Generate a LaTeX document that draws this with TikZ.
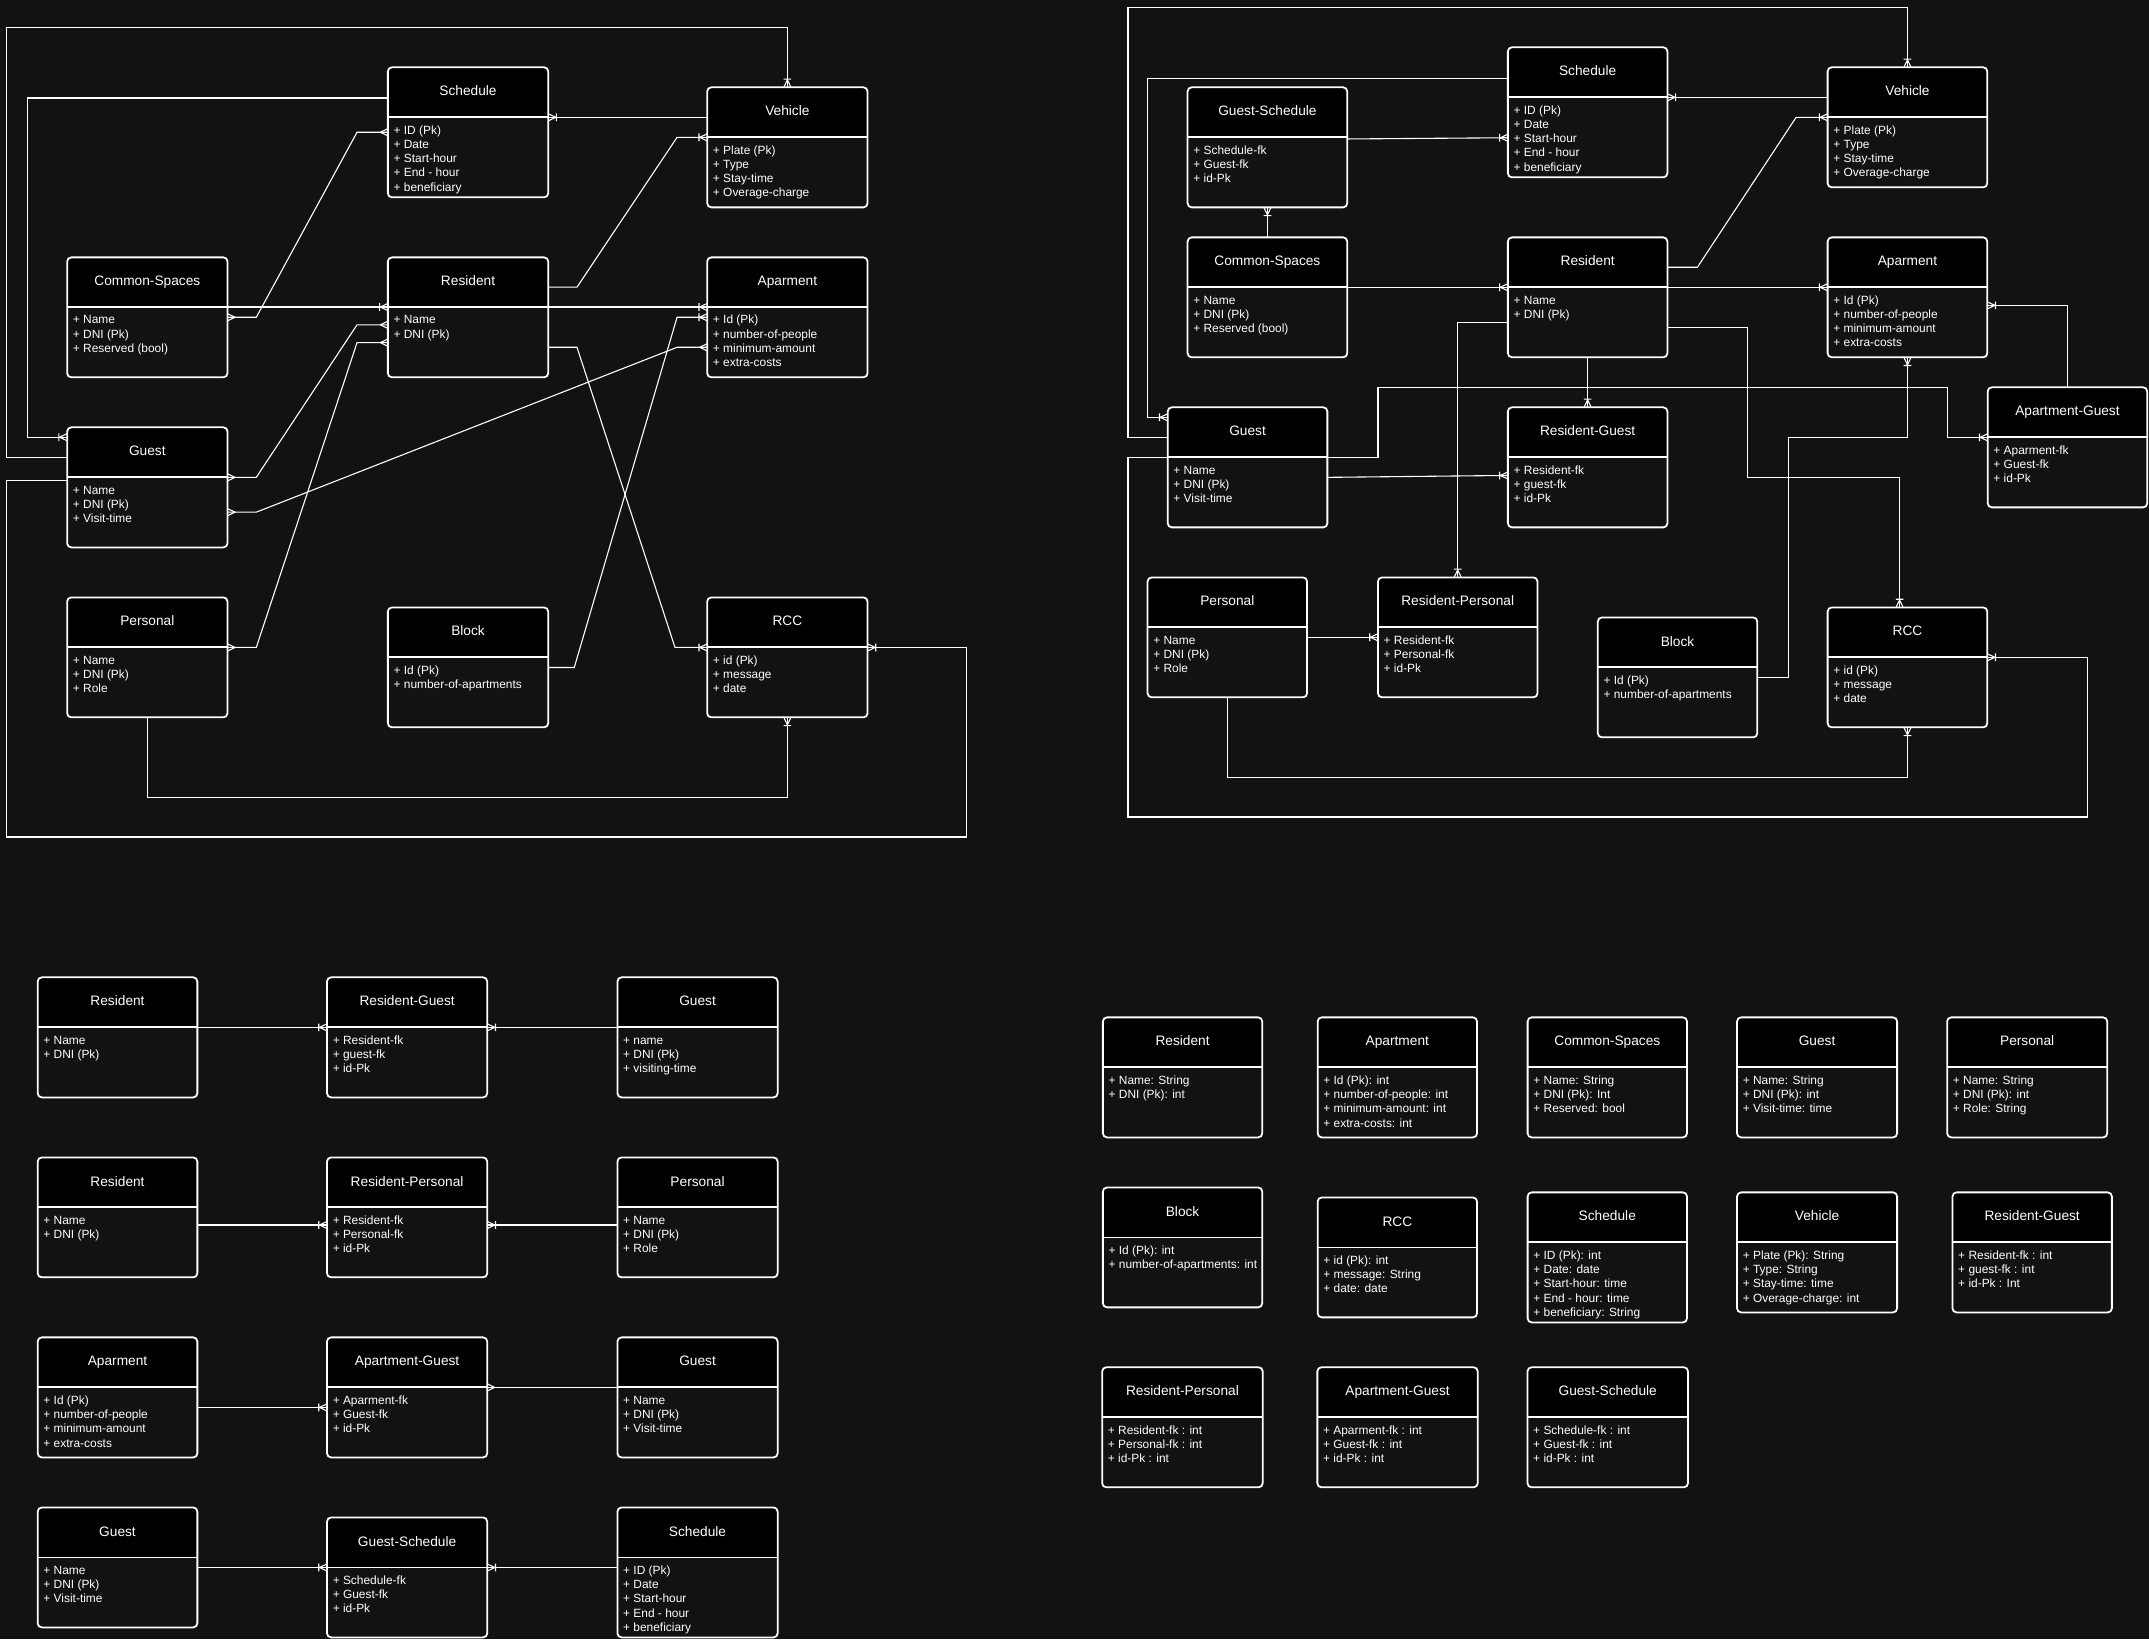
\documentclass[tikz,border=0pt]{standalone}
\usepackage{fontspec}
\setmainfont{Liberation Sans}
\usetikzlibrary{fit,arrows.meta}
\definecolor{bgc}{RGB}{18,18,18}

\pgfdeclarearrow{
  name = crowmany,
  setup code = {
    \pgfarrowssettipend{0pt}
    \pgfarrowssetlineend{0pt}
    \pgfarrowssetbackend{-6pt}
    \pgfarrowshullpoint{0pt}{2.8pt}
    \pgfarrowshullpoint{0pt}{-2.8pt}
    \pgfarrowshullpoint{-6pt}{0pt}
  },
  drawing code = {
    \pgfsetroundjoin
    \pgfpathmoveto{\pgfqpoint{0pt}{2.6pt}}
    \pgfpathlineto{\pgfqpoint{-5.5pt}{0pt}}
    \pgfpathlineto{\pgfqpoint{0pt}{-2.6pt}}
    \pgfusepathqstroke
  }
}
\pgfdeclarearrow{
  name = crowone,
  setup code = {
    \pgfarrowssettipend{0pt}
    \pgfarrowssetlineend{0pt}
    \pgfarrowssetbackend{-7pt}
    \pgfarrowshullpoint{0pt}{2.8pt}
    \pgfarrowshullpoint{0pt}{-2.8pt}
    \pgfarrowshullpoint{-7pt}{2.8pt}
    \pgfarrowshullpoint{-7pt}{-2.8pt}
  },
  drawing code = {
    \pgfsetroundjoin
    \pgfpathmoveto{\pgfqpoint{0pt}{2.6pt}}
    \pgfpathlineto{\pgfqpoint{-5.5pt}{0pt}}
    \pgfpathlineto{\pgfqpoint{0pt}{-2.6pt}}
    \pgfpathmoveto{\pgfqpoint{-6pt}{2.8pt}}
    \pgfpathlineto{\pgfqpoint{-6pt}{-2.8pt}}
    \pgfusepathqstroke
  }
}

\tikzset{
  ebox/.style={draw=white, line width=1.3pt, rounded corners=3pt, inner sep=0pt, outer sep=0pt},
  hdiv/.style={draw=white, line width=1.4pt},
  etitle/.style={text=white, font=\fontsize{10}{12}\selectfont, anchor=base, inner sep=0pt},
  eattr/.style={text=white, font=\fontsize{8.7}{10.4}\selectfont, anchor=base west, inner sep=0pt},
  conn/.style={draw=white, line width=0.8pt},
}

% #1 name, #2 x1, #3 y1, #4 x2, #5 y2, #6 header bottom, #7 title, #8 attributes
\newcommand{\erbox}[8]{%
  \begin{scope}
    \clip[rounded corners=3pt] (#2,#3) rectangle (#4,#5);
    \fill[bgc] (#2,#3) rectangle (#4,#5);
    \fill[black] (#2,#3) rectangle (#4,#6);
  \end{scope}
  \node[ebox, fit={(#2,#3) (#4,#5)}] (#1) {};
  \draw[hdiv] (#2,#6) -- (#4,#6);
  \node[etitle] (#1-t) at ({(#2+#4)/2},{(#3+#6)/2+2.6}) {#7};
  \foreach \atx [count=\nn] in {#8} {
    \node[eattr] (#1-a\nn) at ({#2+4},{#6+12.3+(\nn-1)*10.4}) {\atx};
  }
}

\begin{document}
\begin{tikzpicture}[x=1pt,y=-1pt]
\useasboundingbox (0,0) rectangle (1568,1196);
\fill[bgc] (0,0) rectangle (1568,1196);

% ---------------- top-left diagram ----------------
\erbox{tlSched}{283}{49.1}{400}{144}{85.6}{Schedule}{+ ID (Pk),+ Date,+ Start-hour,+ End - hour,+ beneficiary}
\erbox{tlVeh}{516}{63.7}{633}{151.3}{100.2}{Vehicle}{+ Plate (Pk),+ Type,+ Stay-time,+ Overage-charge}
\erbox{tlCS}{49}{187.8}{166}{275.3}{224}{Common-Spaces}{+ Name,+ DNI (Pk),+ Reserved (bool)}
\erbox{tlRes}{283}{187.8}{400}{275.3}{224}{Resident}{+ Name,+ DNI (Pk)}
\erbox{tlApt}{516}{187.8}{633}{275.3}{224}{Aparment}{+ Id (Pk),+ number-of-people,+ minimum-amount,+ extra-costs}
\erbox{tlGuest}{49}{311.8}{166}{399.4}{348.3}{Guest}{+ Name,+ DNI (Pk),+ Visit-time}
\erbox{tlPers}{49}{435.9}{166}{523.4}{472.4}{Personal}{+ Name,+ DNI (Pk),+ Role}
\erbox{tlBlock}{283}{443.2}{400}{530.7}{479.6}{Block}{+ Id (Pk),+ number-of-apartments}
\erbox{tlRCC}{516}{435.9}{633}{523.4}{472.4}{RCC}{+ id (Pk),+ message,+ date}

% ---------------- top-right diagram ----------------
\erbox{trGS}{866.5}{63.7}{983}{151.3}{100.2}{Guest-Schedule}{+ Schedule-fk,+ Guest-fk,+ id-Pk}
\erbox{trSched}{1100.2}{34.5}{1216.6}{129.4}{71}{Schedule}{+ ID (Pk),+ Date,+ Start-hour,+ End - hour,+ beneficiary}
\erbox{trVeh}{1333.5}{49.1}{1450}{136.7}{85.6}{Vehicle}{+ Plate (Pk),+ Type,+ Stay-time,+ Overage-charge}
\erbox{trCS}{866.5}{173.2}{983}{260.7}{209.6}{Common-Spaces}{+ Name,+ DNI (Pk),+ Reserved (bool)}
\erbox{trRes}{1100.2}{173.2}{1216.6}{260.7}{209.6}{Resident}{+ Name,+ DNI (Pk)}
\erbox{trApt}{1333.5}{173.2}{1450}{260.7}{209.6}{Aparment}{+ Id (Pk),+ number-of-people,+ minimum-amount,+ extra-costs}
\erbox{trGuest}{852}{297.2}{968.5}{384.8}{333.7}{Guest}{+ Name,+ DNI (Pk),+ Visit-time}
\erbox{trRG}{1100.2}{297.2}{1216.6}{384.8}{333.7}{Resident-Guest}{+ Resident-fk,+ guest-fk,+ id-Pk}
\erbox{trAG}{1450.3}{282.6}{1566.7}{370.2}{319.1}{Apartment-Guest}{+ Aparment-fk,+ Guest-fk,+ id-Pk}
\erbox{trPers}{837.3}{421.3}{953.7}{508.8}{457.8}{Personal}{+ Name,+ DNI (Pk),+ Role}
\erbox{trRP}{1005.4}{421.3}{1121.8}{508.8}{457.8}{Resident-Personal}{+ Resident-fk,+ Personal-fk,+ id-Pk}
\erbox{trBlock}{1165.8}{450.5}{1282.2}{538}{487}{Block}{+ Id (Pk),+ number-of-apartments}
\erbox{trRCC}{1333.5}{443.2}{1450}{530.7}{479.6}{RCC}{+ id (Pk),+ message,+ date}

% ---------------- bottom-left diagrams ----------------
\erbox{blRes1}{27.5}{713.1}{144}{800.7}{749.6}{Resident}{+ Name,+ DNI (Pk)}
\erbox{blRG}{238.6}{713.1}{355.5}{800.7}{749.6}{Resident-Guest}{+ Resident-fk,+ guest-fk,+ id-Pk}
\erbox{blGuest1}{450.5}{713.1}{567.4}{800.7}{749.6}{Guest}{+ name,+ DNI (Pk),+ visiting-time}
\erbox{blRes2}{27.5}{844.5}{144}{932}{881}{Resident}{+ Name,+ DNI (Pk)}
\erbox{blRP}{238.6}{844.5}{355.5}{932}{881}{Resident-Personal}{+ Resident-fk,+ Personal-fk,+ id-Pk}
\erbox{blPers}{450.5}{844.5}{567.4}{932}{881}{Personal}{+ Name,+ DNI (Pk),+ Role}
\erbox{blApt}{27.5}{975.8}{144}{1063.4}{1012.3}{Aparment}{+ Id (Pk),+ number-of-people,+ minimum-amount,+ extra-costs}
\erbox{blAG}{238.6}{975.8}{355.5}{1063.4}{1012.3}{Apartment-Guest}{+ Aparment-fk,+ Guest-fk,+ id-Pk}
\erbox{blGuest2}{450.5}{975.8}{567.4}{1063.4}{1012.3}{Guest}{+ Name,+ DNI (Pk),+ Visit-time}
\erbox{blGuest3}{27.5}{1099.9}{144}{1187.4}{1136.4}{Guest}{+ Name,+ DNI (Pk),+ Visit-time}
\erbox{blGS}{238.6}{1107.2}{355.5}{1194.7}{1143.7}{Guest-Schedule}{+ Schedule-fk,+ Guest-fk,+ id-Pk}
\erbox{blSched}{450.5}{1099.9}{567.4}{1194.7}{1136.4}{Schedule}{+ ID (Pk),+ Date,+ Start-hour,+ End - hour,+ beneficiary}

% ---------------- bottom-right tables ----------------
\erbox{brRes}{804.7}{742.3}{921}{829.9}{778.8}{Resident}{+ Name: String,+ DNI (Pk): int}
\erbox{brApt}{961.4}{742.3}{1077.7}{829.9}{778.8}{Apartment}{+ Id (Pk): int,+ number-of-people: int,+ minimum-amount: int,+ extra-costs: int}
\erbox{brCS}{1114.6}{742.3}{1230.9}{829.9}{778.8}{Common-Spaces}{+ Name: String,+ DNI (Pk): Int,+ Reserved: bool}
\erbox{brGuest}{1267.4}{742.3}{1384.2}{829.9}{778.8}{Guest}{+ Name: String,+ DNI (Pk): int,+ Visit-time: time}
\erbox{brPers}{1420.7}{742.3}{1537.5}{829.9}{778.8}{Personal}{+ Name: String,+ DNI (Pk): int,+ Role: String}
\erbox{brBlock}{804.7}{866.4}{921}{953.9}{902.9}{Block}{+ Id (Pk): int,+ number-of-apartments: int}
\erbox{brRCC}{961.4}{873.7}{1077.7}{961.2}{910.2}{RCC}{+ id (Pk): int,+ message: String,+ date: date}
\erbox{brSched}{1114.6}{870}{1230.9}{964.9}{906.5}{Schedule}{+ ID (Pk): int,+ Date: date,+ Start-hour: time,+ End - hour: time,+ beneficiary: String}
\erbox{brVeh}{1267.4}{870}{1384.2}{957.6}{906.5}{Vehicle}{+ Plate (Pk): String,+ Type: String,+ Stay-time: time,+ Overage-charge: int}
\erbox{brRG}{1424.6}{870}{1540.9}{957.6}{906.5}{Resident-Guest}{+ Resident-fk : int,+ guest-fk : int,+ id-Pk : Int}
\erbox{brRP}{804.2}{997.6}{921.3}{1085.2}{1034.1}{Resident-Personal}{+ Resident-fk : int,+ Personal-fk : int,+ id-Pk : int}
\erbox{brAG}{961.2}{997.6}{1078.2}{1085.2}{1034.1}{Apartment-Guest}{+ Aparment-fk : int,+ Guest-fk : int,+ id-Pk : int}
\erbox{brGS}{1114.5}{997.6}{1231.6}{1085.2}{1034.1}{Guest-Schedule}{+ Schedule-fk : int,+ Guest-fk : int,+ id-Pk : int}

% ---------------- connectors: top-left ----------------
\draw[conn,-{crowone}] (tlGuest.west |- 0,333.5) -- (5,333.5) -- (5,20) -- (tlVeh.north |- 0,20) -- (tlVeh.north);
\draw[conn,-{crowone}] (tlSched.west |- 0,71.5) -- (20,71.5) -- (20,319) -- (tlGuest.west |- 0,319);
\draw[conn,{crowone}-] (tlSched.east |- 0,85.6) -- (tlVeh.west |- 0,85.6);
\draw[conn,{crowmany}-{crowmany}] (tlCS.east |- 0,231.5) -- (187,231.5) -- (260.5,96.5) -- (tlSched.west |- 0,96.5);
\draw[conn,-{crowone}] (tlRes.east |- 0,209.5) -- (421,209.5) -- (494,100.2) -- (tlVeh.west |- 0,100.2);
\draw[conn,-{crowone}] (tlCS.east |- 0,224) -- (tlRes.west |- 0,224);
\draw[conn,-{crowone}] (tlRes.east |- 0,224) -- (tlApt.west |- 0,224);
\draw[conn,{crowmany}-{crowmany}] (tlGuest.east |- 0,348.3) -- (187,348.3) -- (260.5,237) -- (tlRes.west |- 0,237);
\draw[conn,{crowmany}-{crowmany}] (tlPers.east |- 0,472.4) -- (187,472.4) -- (260.5,250) -- (tlRes.west |- 0,250);
\draw[conn,{crowmany}-{crowmany}] (tlGuest.east |- 0,373.7) -- (187,373.7) -- (494,253.4) -- (tlApt.west |- 0,253.4);
\draw[conn,-{crowone}] (tlBlock.east |- 0,487) -- (419,487) -- (494,231.5) -- (tlApt.west |- 0,231.5);
\draw[conn,-{crowone}] (tlRes.east |- 0,253.4) -- (421,253.4) -- (492.5,472.4) -- (tlRCC.west |- 0,472.4);
\draw[conn,-{crowone}] (tlPers.south) -- (tlPers.south |- 0,581.8) -- (tlRCC.south |- 0,581.8) -- (tlRCC.south);
\draw[conn,-{crowone}] (tlGuest.west |- 0,350.3) -- (5,350.3) -- (5,610.7) -- (705,610.7) -- (705,472.4) -- (tlRCC.east |- 0,472.4);

% ---------------- connectors: top-right ----------------
\draw[conn,-{crowone}] (trGuest.west |- 0,319.1) -- (823,319.1) -- (823,5.4) -- (trVeh.north |- 0,5.4) -- (trVeh.north);
\draw[conn,-{crowone}] (trSched.west |- 0,57.5) -- (837.5,57.5) -- (837.5,304.5) -- (trGuest.west |- 0,304.5);
\draw[conn,{crowone}-] (trSched.east |- 0,71) -- (trVeh.west |- 0,71);
\draw[conn,-{crowone}] (trGS.east |- 0,101.4) -- (trSched.west |- 0,100.5);
\draw[conn,-{crowone}] (trCS.north) -- (trGS.south);
\draw[conn,-{crowone}] (trRes.east |- 0,195) -- (1238.5,195) -- (1310.5,85.6) -- (trVeh.west |- 0,85.6);
\draw[conn,-{crowone}] (trCS.east |- 0,209.6) -- (trRes.west |- 0,209.6);
\draw[conn,-{crowone}] (trRes.east |- 0,209.6) -- (trApt.west |- 0,209.6);
\draw[conn,-{crowone}] (trRes.west |- 0,235.4) -- (trRP.north |- 0,235.4) -- (trRP.north);
\draw[conn,-{crowone}] (trRes.east |- 0,238.8) -- (1275,238.8) -- (1275,348.3) -- (1386,348.3) -- (trRCC.north -| 1386,0);
\draw[conn,-{crowone}] (trRes.south) -- (trRG.north);
\draw[conn,-{crowone}] (trAG.north) -- (trAG.north |- 0,222.8) -- (trApt.east |- 0,222.8);
\draw[conn,{crowone}-] (trApt.south) -- (trApt.south |- 0,319.1) -- (1304.7,319.1) -- (1304.7,494.2) -- (trBlock.east |- 0,494.2);
\draw[conn,-{crowone}] (trGuest.east |- 0,333.7) -- (1005.4,333.7) -- (1005.4,282.6) -- (1421,282.6) -- (1421,319.1) -- (trAG.west |- 0,319.1);
\draw[conn,-{crowone}] (trGuest.east |- 0,348.3) -- (trRG.west |- 0,346.9);
\draw[conn,-{crowone}] (trPers.east |- 0,465) -- (trRP.west |- 0,465);
\draw[conn,-{crowone}] (trPers.south) -- (trPers.south |- 0,567.2) -- (trRCC.south |- 0,567.2) -- (trRCC.south);
\draw[conn,-{crowone}] (trGuest.west |- 0,333.7) -- (823,333.7) -- (823,596.1) -- (1523,596.1) -- (1523,479.6) -- (trRCC.east |- 0,479.6);

% ---------------- connectors: bottom-left ----------------
\draw[conn,-{crowone}] (blRes1.east |- 0,749.6) -- (blRG.west |- 0,749.6);
\draw[conn,-{crowone}] (blGuest1.west |- 0,749.6) -- (blRG.east |- 0,749.6);
\draw[conn,-{crowone}] (blRes2.east |- 0,893.8) -- (blRP.west |- 0,893.8);
\draw[conn,-{crowone}] (blPers.west |- 0,893.8) -- (blRP.east |- 0,893.8);
\draw[conn,-{crowone}] (blApt.east |- 0,1026.9) -- (blAG.west |- 0,1026.9);
\draw[conn,-{crowmany}] (blGuest2.west |- 0,1012.3) -- (blAG.east |- 0,1012.3);
\draw[conn,-{crowone}] (blGuest3.east |- 0,1143.7) -- (blGS.west |- 0,1143.7);
\draw[conn,-{crowone}] (blSched.west |- 0,1143.7) -- (blGS.east |- 0,1143.7);
\end{tikzpicture}
\end{document}
